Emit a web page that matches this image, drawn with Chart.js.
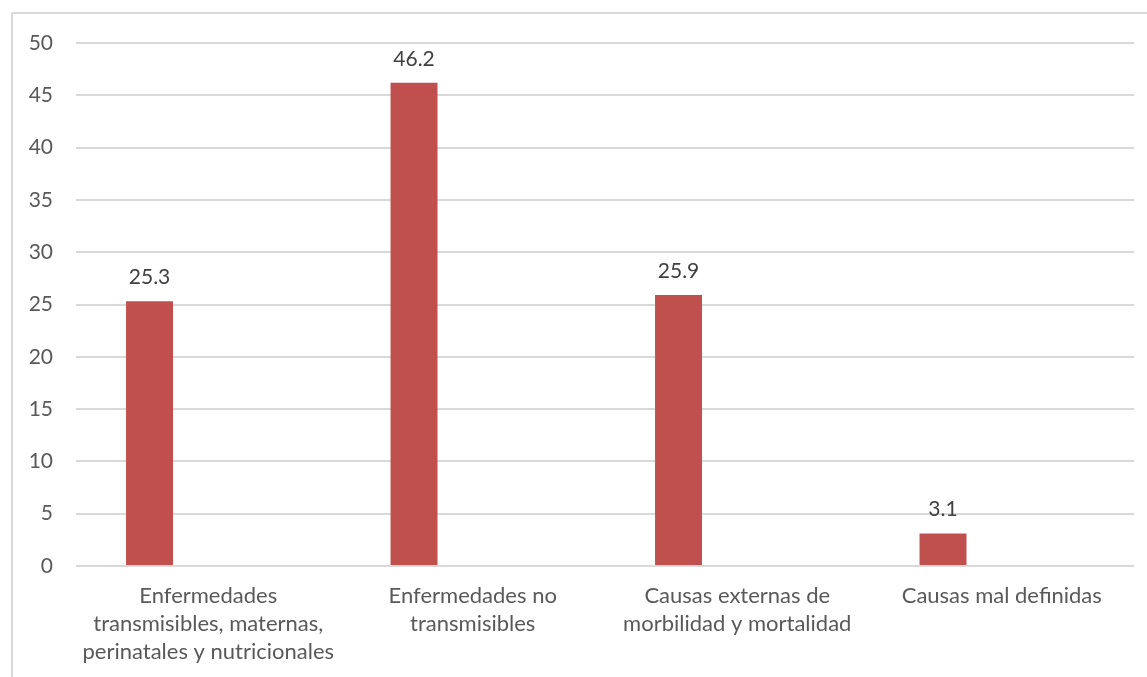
<!DOCTYPE html>
<html>
<head>
<meta charset="utf-8">
<script src="https://cdn.jsdelivr.net/npm/chart.js@4"></script>
<style>
  html, body { margin: 0; padding: 0; background: #fff; overflow: hidden; }
  #frame {
    position: absolute; left: 11px; top: 12px;
    width: 1160px; height: 700px;
    border: 2px solid #d9d9d9;
  }
  #wrap { position: absolute; left: 0; top: 0; width: 1147px; height: 677px; }
</style>
</head>
<body>
<div id="frame"></div>
<div id="wrap"><canvas id="chart"></canvas></div>
<script>
// categorías de causas de muerte
const categories = [
  ['Enfermedades', 'transmisibles, maternas,', 'perinatales y nutricionales'],
  ['Enfermedades no', 'transmisibles'],
  ['Causas externas de', 'morbilidad y mortalidad'],
  ['Causas mal definidas']
];
const percentages = [25.3, 46.2, 25.9, 3.1];
// serie vacía que ocupa el segundo hueco de cada grupo
const emptySeries = [null, null, null, null];
const yTicks = [0, 5, 10, 15, 20, 25, 30, 35, 40, 45, 50];

const FONT = 'Lato, "Open Sans", sans-serif';

// etiquetas de valor encima de cada barra
const valueLabels = {
  id: 'valueLabels',
  afterDatasetsDraw(chart) {
    const ctx = chart.ctx;
    const meta = chart.getDatasetMeta(0);
    ctx.save();
    ctx.font = '21px ' + FONT;
    ctx.fillStyle = '#404040';
    ctx.textAlign = 'center';
    ctx.textBaseline = 'middle';
    meta.data.forEach((bar, i) => {
      ctx.fillText(percentages[i].toFixed(1), bar.x, bar.y - 24);
    });
    ctx.restore();
  }
};

new Chart(document.getElementById('chart'), {
  type: 'bar',
  data: {
    labels: categories,
    datasets: [
      { data: percentages, backgroundColor: '#c0504d', categoryPercentage: 0.888, barPercentage: 0.4 },
      { data: emptySeries, backgroundColor: '#8064a2', categoryPercentage: 0.888, barPercentage: 0.4 }
    ]
  },
  options: {
    responsive: true,
    maintainAspectRatio: false,
    animation: false,
    layout: { padding: { top: 43, right: 13, left: 0, bottom: 0 } },
    plugins: {
      legend: { display: false },
      tooltip: { enabled: false }
    },
    scales: {
      x: {
        grid: { display: false, drawTicks: false },
        border: { display: false },
        ticks: {
          color: '#595959',
          font: { family: FONT, size: 22, lineHeight: 1.28 },
          padding: 16,
          maxRotation: 0,
          autoSkip: false
        },
        afterFit(scale) { scale.height = 111; }
      },
      y: {
        min: 0,
        max: 50,
        afterBuildTicks(scale) { scale.ticks = yTicks.map(v => ({ value: v })); },
        grid: { color: '#d9d9d9', lineWidth: 2, drawTicks: false },
        border: { display: false },
        ticks: {
          color: '#595959',
          font: { family: FONT, size: 21 },
          padding: 23
        },
        afterFit(scale) { scale.width = 76; }
      }
    }
  },
  plugins: [valueLabels]
});
</script>
</body>
</html>
